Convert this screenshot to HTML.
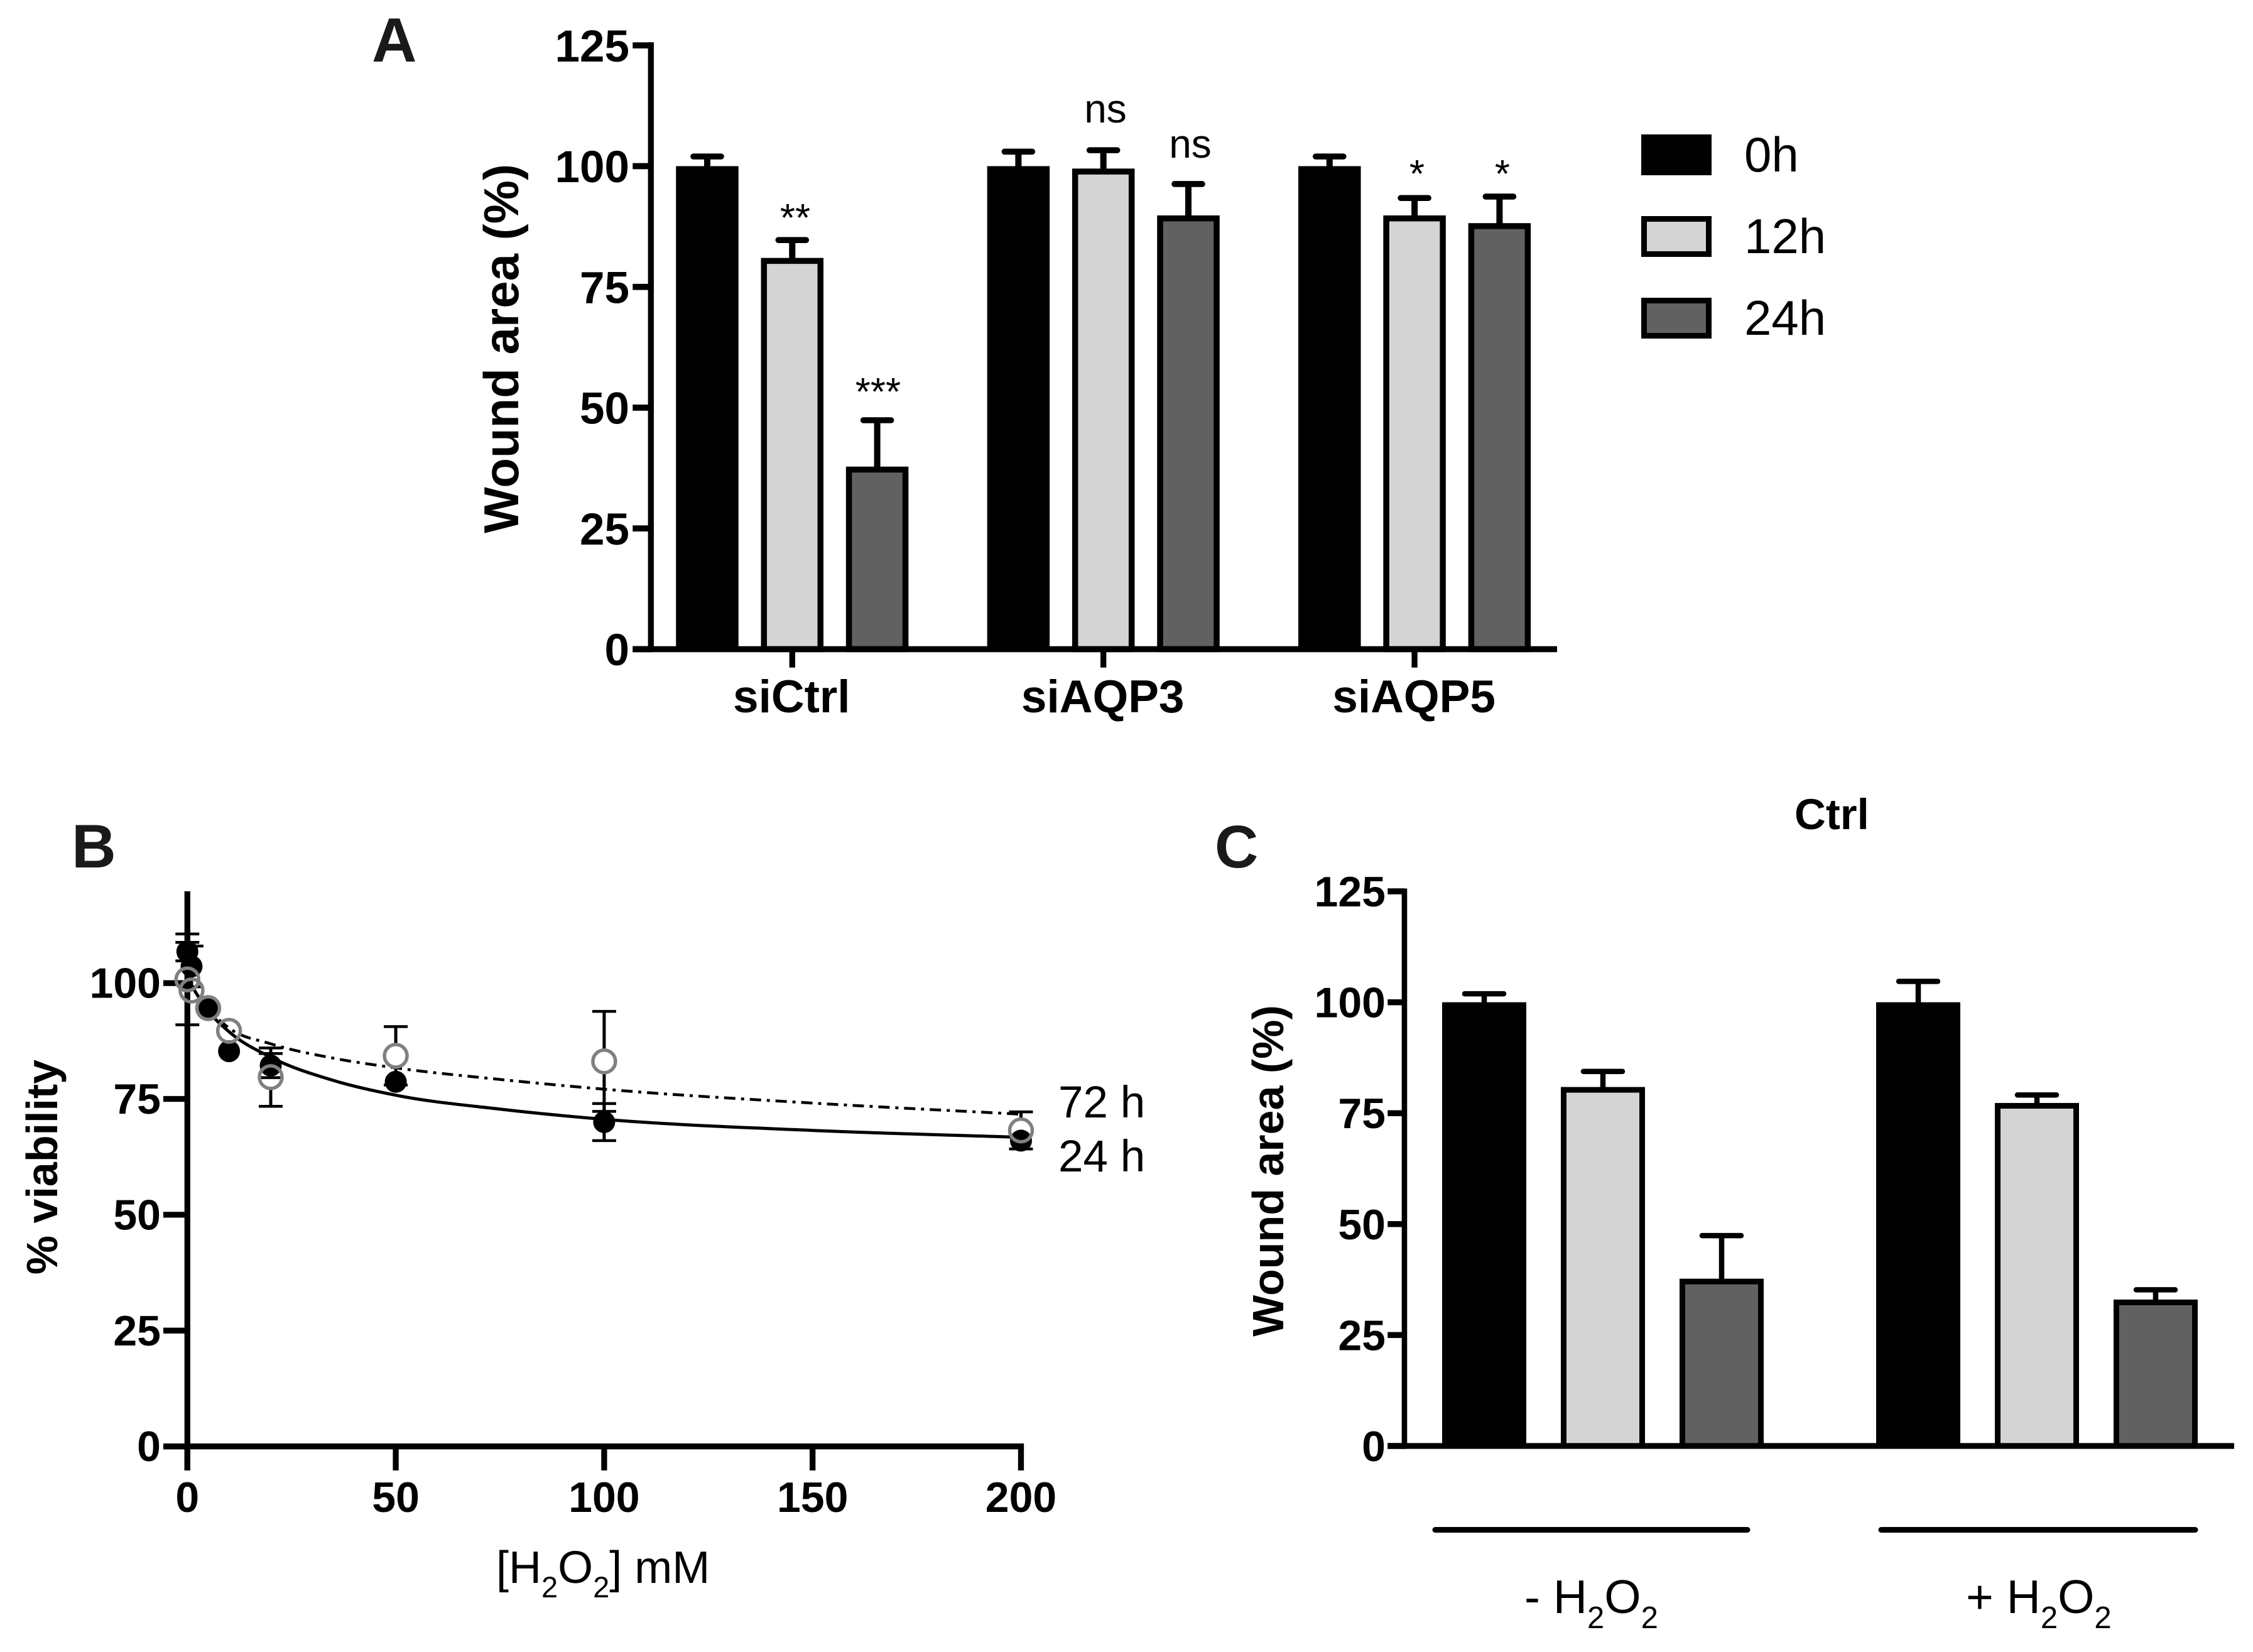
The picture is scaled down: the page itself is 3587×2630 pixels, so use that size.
<!DOCTYPE html>
<html lang="en">
<head>
<meta charset="utf-8">
<title>Wound area and viability panels</title>
<style>
html,body{margin:0;padding:0;background:#fff;width:3587px;height:2630px;overflow:hidden}
svg{display:block}
text{font-family:"Liberation Sans",Arial,sans-serif;fill:#000}
.b{font-weight:700}
.letter{font-weight:700;fill:#1a1a1a}
</style>
</head>
<body>
<svg id="fig" width="3587" height="2630" viewBox="0 0 3587 2630" xmlns="http://www.w3.org/2000/svg">
<rect x="0" y="0" width="3587" height="2630" fill="#fff"/>

<g id="panelA">
  <text class="letter" x="592" y="98" font-size="99">A</text>
  <text class="b" transform="translate(825 555) rotate(-90)" text-anchor="middle" font-size="78">Wound area (%)</text>
  <text x="1266" y="368" text-anchor="middle" font-size="62">**</text>
  <text x="1398" y="645" text-anchor="middle" font-size="62">***</text>
  <text x="1760" y="195" text-anchor="middle" font-size="64">ns</text>
  <text x="1895" y="251" text-anchor="middle" font-size="64">ns</text>
  <text x="2256" y="298" text-anchor="middle" font-size="62">*</text>
  <text x="2392" y="298" text-anchor="middle" font-size="62">*</text>
  <g>
    <rect x="2613" y="214" width="112" height="65" fill="#000"/>
    <rect x="2617.5" y="348.5" width="103" height="56" fill="#d4d4d4" stroke="#000" stroke-width="9"/>
    <rect x="2617.5" y="478.5" width="103" height="56" fill="#616161" stroke="#000" stroke-width="9"/>
    <text x="2777" y="273" font-size="78">0h</text>
    <text x="2777" y="403" font-size="78">12h</text>
    <text x="2777" y="533" font-size="78">24h</text>
  </g>
</g>

<g id="panelB">
  <text class="letter" x="114" y="1381" font-size="98">B</text>
  <text class="b" transform="translate(91 1858) rotate(-90)" text-anchor="middle" font-size="70">% viability</text>
  <text x="790" y="2520" font-size="72">[H<tspan font-size="47" dy="23">2</tspan><tspan dy="-23">O</tspan><tspan font-size="47" dy="23">2</tspan><tspan dy="-23">] mM</tspan></text>
  <text x="1685" y="1779" font-size="71">72 h</text>
  <text x="1685" y="1865" font-size="71">24 h</text>
</g>

<g id="panelC">
  <text class="letter" x="1934" y="1381" font-size="96">C</text>
  <text class="b" x="2857" y="1320" font-size="69">Ctrl</text>
  <text class="b" transform="translate(2043 1864) rotate(-90)" text-anchor="middle" font-size="70">Wound area (%)</text>
  <line x1="2285" y1="2435.5" x2="2782" y2="2435.5" stroke="#000" stroke-width="9" stroke-linecap="round"/>
  <line x1="2995" y1="2435.5" x2="3495" y2="2435.5" stroke="#000" stroke-width="9" stroke-linecap="round"/>
  <text x="2427" y="2568" font-size="75">- H<tspan font-size="49" dy="24">2</tspan><tspan dy="-24">O</tspan><tspan font-size="49" dy="24">2</tspan></text>
  <text x="3130" y="2568" font-size="75">+ H<tspan font-size="49" dy="24">2</tspan><tspan dy="-24">O</tspan><tspan font-size="49" dy="24">2</tspan></text>
</g>
</svg>

<script>
// Panel A data
const aCategories = ['siCtrl', 'siAQP3', 'siAQP5'];
const aSeriesNames = ['0h', '12h', '24h'];
const aValues0h = [100, 100, 100];
const aValues12h = [81, 99.5, 89.8];
const aValues24h = [37.8, 89.8, 88.2];
const aUpper0h = [102, 103, 102];
const aUpper12h = [84.7, 103.3, 93.4];
const aUpper24h = [47.4, 96.3, 93.7];
const aTicks = [0, 25, 50, 75, 100, 125];

// Panel B data
const bTicksY = [0, 25, 50, 75, 100];
const bTicksX = [0, 50, 100, 150, 200];
const bConc = [0, 1, 5, 10, 20, 50, 100, 200];
const bMean24 = [106.8, 103.6, 94.6, 85.3, 82.2, 78.7, 70, 66];
const bErr24 = [2, 4.4, 0, 0, 2.6, 0, 4, 0];
const bMean72 = [100.8, 98.4, 94.6, 89.7, 79.7, 84.3, 83.1, 68.2];
const bErr72 = [9.8, 0, 0, 0, 6.3, 6.3, 10.8, 4];
const bFitConc = [0, 2, 5, 10, 20, 35, 50, 75, 100, 150, 200];
const bFit24 = [101, 98, 94, 89.5, 84, 79, 75.8, 72.8, 70.6, 68.2, 66.7];
const bFit72 = [100.8, 98, 94.5, 90.3, 86.9, 83.8, 81.7, 79.2, 77.1, 74.1, 71.7];

// Panel C data
const cCategories = ['- H2O2', '+ H2O2'];
const cValues0h = [100, 100];
const cValues12h = [80.9, 77.3];
const cValues24h = [37.7, 33];
const cUpper0h = [101.9, 104.7];
const cUpper12h = [84.4, 79.1];
const cUpper24h = [47.4, 35.2];
const cTicks = [0, 25, 50, 75, 100, 125];

const NS = 'http://www.w3.org/2000/svg';
const COLOR_LIGHT = '#d4d4d4';
const COLOR_DARK = '#616161';
const COLOR_RING = '#808080';

function mk(parent, tag) {
  const el = document.createElementNS(NS, tag);
  parent.appendChild(el);
  return el;
}
function setAll(el, props) {
  Object.keys(props).forEach(function (k) { el.setAttribute(k, props[k]); });
  return el;
}
function drawLine(parent, name, x1, y1, x2, y2, w, color, cap) {
  const el = mk(parent, 'line');
  
  
  setAll(el, {x1: x1, y1: y1, x2: x2, y2: y2, stroke: color || '#000', 'stroke-width': w, 'stroke-linecap': cap || 'butt'});
  return el;
}
function drawLabel(parent, name, x, y, size, str, anchor) {
  const el = mk(parent, 'text');
  
  
  setAll(el, {x: x, y: y, 'font-size': size, 'font-weight': 700, 'text-anchor': anchor});
  el.textContent = str;
  return el;
}
function drawBar(parent, name, cx, width, yTop, yBase, fill, sw) {
  const el = mk(parent, 'rect');
  
  
  if (sw > 0) {
    setAll(el, {x: cx - width / 2 + sw / 2, y: yTop + sw / 2, width: width - sw, height: Math.max(0, yBase - yTop - sw / 2), fill: fill, stroke: '#000', 'stroke-width': sw});
  } else {
    setAll(el, {x: cx - width / 2, y: yTop, width: width, height: Math.max(0, yBase - yTop), fill: fill});
  }
  return el;
}

/* ---------- Panel A ---------- */
(function () {
  const g = document.getElementById('panelA');
  const y = function (v) { return 1033.5 - v * 7.69; };
  const groupX = function (i) { return 1261.3 + i * 495.4; };
  const offset = function (s) { return (s - 1) * 135.3; };
  const series = [aValues0h, aValues12h, aValues24h];
  const uppers = [aUpper0h, aUpper12h, aUpper24h];
  const fills = ['#000', COLOR_LIGHT, COLOR_DARK];
  aCategories.forEach(function (cat, i) {
    series.forEach(function (vals, s) {
      const cx = groupX(i) + offset(s);
      const capY = y(uppers[s][i]);
      drawLine(g, 'error-bar-' + cat + '-' + aSeriesNames[s], cx, y(vals[i]) + 4, cx, capY, 10);
      drawLine(g, 'error-cap-' + cat + '-' + aSeriesNames[s], cx - 22, capY, cx + 22, capY, 9.6, '#000', 'round');
      drawBar(g, 'bar-' + cat + '-' + aSeriesNames[s], cx, 99.5, y(vals[i]), y(0), fills[s], s === 0 ? 0 : 9.5);
    });
    drawLine(g, 'x-tick-' + cat, groupX(i), y(0), groupX(i), 1062.7, 9.3);
    drawLabel(g, 'x-tick-label-' + cat, groupX(i) - 1, 1134, 73, cat, 'middle');
  });
  drawLine(g, 'y-axis-line', 1036.3, y(125) - 5, 1036.3, y(0) + 4.8, 9.3);
  drawLine(g, 'x-axis-line', 1007.3, y(0), 2479, y(0), 9.6);
  aTicks.forEach(function (t) {
    drawLine(g, 'y-tick-' + t, 1007.3, y(t), 1036.3, y(t), 9.8);
    drawLabel(g, 'y-tick-label-' + t, 1002, y(t) + 25.5, 71, String(t), 'end');
  });
})();

/* ---------- Panel B ---------- */
(function () {
  const g = document.getElementById('panelB');
  const x = function (c) { return 298.3 + c * 6.636; };
  const y = function (v) { return 2302.7 - v * 7.376; };

  // Piecewise cubic through the read-off curve samples, tangents weighted by x spacing
  function smooth(xs, ys) {
    const px = xs.map(x), py = ys.map(y), n = px.length;
    const h = [], d = [], m = [];
    for (let i = 0; i < n - 1; i++) { h[i] = px[i + 1] - px[i]; d[i] = (py[i + 1] - py[i]) / h[i]; }
    m[0] = d[0];
    m[n - 1] = d[n - 2];
    for (let i = 1; i < n - 1; i++) { m[i] = (d[i - 1] * h[i] + d[i] * h[i - 1]) / (h[i - 1] + h[i]); }
    let path = 'M' + px[0] + ' ' + py[0];
    for (let i = 0; i < n - 1; i++) {
      path += 'C' + (px[i] + h[i] / 3) + ' ' + (py[i] + m[i] * h[i] / 3) + ' ' +
        (px[i + 1] - h[i] / 3) + ' ' + (py[i + 1] - m[i + 1] * h[i] / 3) + ' ' + px[i + 1] + ' ' + py[i + 1];
    }
    return path;
  }

  // axes
  drawLine(g, 'y-axis-line', x(0), 1419, x(0), 2341, 9.3);
  drawLine(g, 'x-axis-line', 260, y(0), x(200) + 4.6, y(0), 9.3);
  bTicksY.forEach(function (t) {
    drawLine(g, 'y-tick-' + t, 260, y(t), x(0), y(t), 9.3);
    drawLabel(g, 'y-tick-label-' + t, 256, y(t) + 23.5, 68, String(t), 'end');
  });
  bTicksX.forEach(function (t) {
    drawLine(g, 'x-tick-' + t, x(t), y(0), x(t), 2341, 9.3);
    drawLabel(g, 'x-tick-label-' + t, x(t), 2407, 68, String(t), 'middle');
  });

  // fit curves
  const fit24 = mk(g, 'path');
  
  
  setAll(fit24, {d: smooth(bFitConc, bFit24), fill: 'none', stroke: '#000', 'stroke-width': 5});
  const fit72 = mk(g, 'path');
  
  
  setAll(fit72, {d: smooth(bFitConc, bFit72), fill: 'none', stroke: '#000', 'stroke-width': 4.5, 'stroke-dasharray': '18 9 5 9'});

  const capHalf = 19, ringR = 18, dotR = 17.5;

  // 24h error bars and points
  bConc.forEach(function (c, i) {
    const cx = x(c);
    if (bErr24[i] > 0) {
      const up = y(bMean24[i] + bErr24[i]), lo = y(bMean24[i] - bErr24[i]);
      drawLine(g, 'error-bar-24h-' + c, cx, up, cx, lo, 5);
      drawLine(g, 'error-cap-top-24h-' + c, cx - capHalf, up, cx + capHalf, up, 4.5);
      drawLine(g, 'error-cap-bottom-24h-' + c, cx - capHalf, lo, cx + capHalf, lo, 4.5);
    }
    const dot = mk(g, 'circle');
    
    
    setAll(dot, {cx: cx, cy: y(bMean24[i]), r: dotR, fill: '#000'});
  });

  // 72h error bars and open points
  bConc.forEach(function (c, i) {
    if (bErr72[i] <= 0) return;
    const cx = x(c), cy = y(bMean72[i]);
    const up = y(bMean72[i] + bErr72[i]), lo = y(bMean72[i] - bErr72[i]);
    if (up < cy - ringR) drawLine(g, 'error-bar-72h-upper-' + c, cx, up, cx, cy - ringR, 5);
    if (lo > cy + ringR) drawLine(g, 'error-bar-72h-lower-' + c, cx, cy + ringR, cx, lo, 5);
    drawLine(g, 'error-cap-top-72h-' + c, cx - capHalf, up, cx + capHalf, up, 4.5);
    drawLine(g, 'error-cap-bottom-72h-' + c, cx - capHalf, lo, cx + capHalf, lo, 4.5);
  });
  bConc.forEach(function (c, i) {
    const ring = mk(g, 'circle');
    
    
    setAll(ring, {cx: x(c), cy: y(bMean72[i]), r: ringR, fill: 'none', stroke: COLOR_RING, 'stroke-width': 5.5});
  });
})();

/* ---------- Panel C ---------- */
(function () {
  const g = document.getElementById('panelC');
  const y = function (v) { return 2302 - v * 7.064; };
  const groupX = function (i) { return 2552 + i * 691; };
  const offset = function (s) { return (s - 1) * 189; };
  const series = [cValues0h, cValues12h, cValues24h];
  const uppers = [cUpper0h, cUpper12h, cUpper24h];
  const names = aSeriesNames;
  const fills = ['#000', COLOR_LIGHT, COLOR_DARK];
  cCategories.forEach(function (cat, i) {
    series.forEach(function (vals, s) {
      const cx = groupX(i) + offset(s);
      const capY = y(uppers[s][i]);
      const key = (i === 0 ? 'minus-h2o2-' : 'plus-h2o2-') + names[s];
      drawLine(g, 'error-bar-' + key, cx, y(vals[i]) + 3, cx, capY, 8.5);
      drawLine(g, 'error-cap-' + key, cx - 31, capY, cx + 31, capY, 8.5, '#000', 'round');
      drawBar(g, 'bar-' + key, cx, 134, y(vals[i]), y(0), fills[s], s === 0 ? 0 : 9);
    });
  });
  drawLine(g, 'y-axis-line', 2236, y(125) - 4.5, 2236, y(0) + 4.6, 8.6);
  drawLine(g, 'x-axis-line', 2209.3, y(0), 3557, y(0), 9.3);
  cTicks.forEach(function (t) {
    drawLine(g, 'y-tick-' + t, 2209.3, y(t), 2236, y(t), 9.5);
    drawLabel(g, 'y-tick-label-' + t, 2206, y(t) + 24, 68, String(t), 'end');
  });
})();
</script>
</body>
</html>
